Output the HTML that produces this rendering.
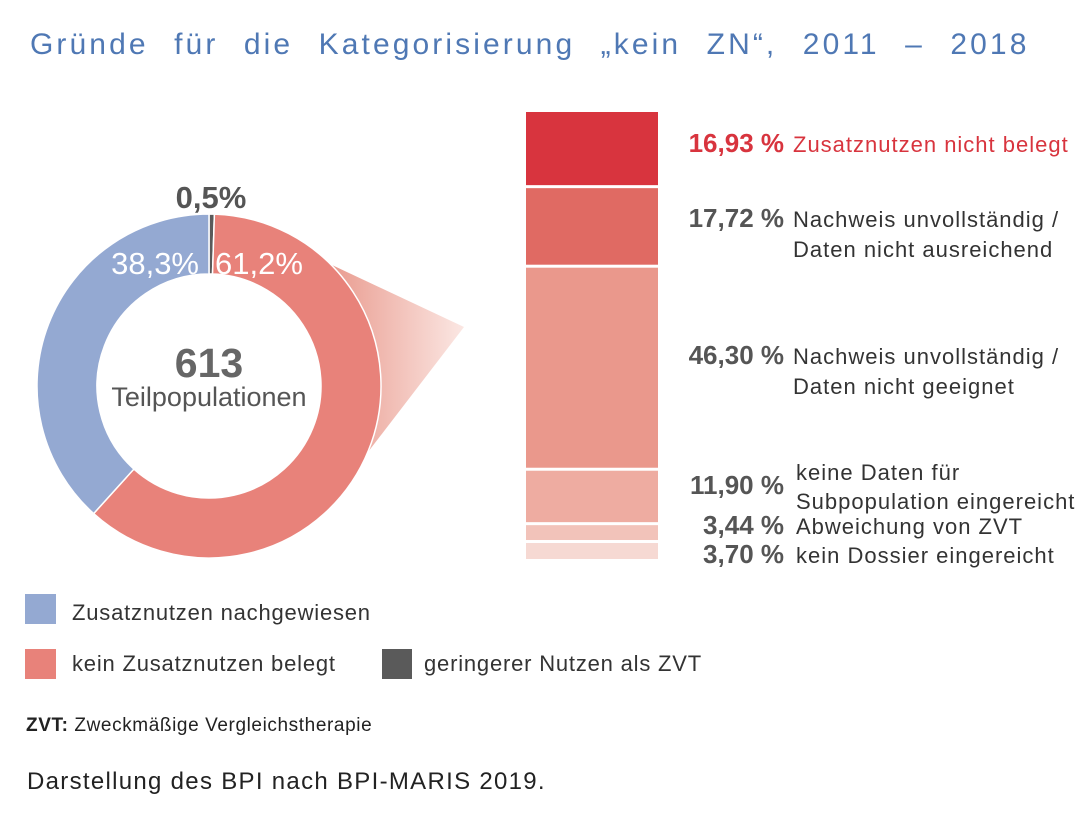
<!DOCTYPE html>
<html><head><meta charset="utf-8"><style>
body{margin:0;width:1092px;height:827px;background:#fff;font-family:"Liberation Sans",sans-serif;position:relative;overflow:hidden}
.t{position:absolute;white-space:nowrap}
</style></head><body>
<div class="t" style="left:30px;top:28px;font-size:30px;color:#4f78b4;letter-spacing:3.1px;word-spacing:14px">Gründe für die Kategorisierung „kein ZN“, 2011 – 2018</div>
<svg id="chart" width="1092" height="827" style="position:absolute;left:0;top:0">
<defs><linearGradient id="fan" x1="0" x2="1" y1="0" y2="0"><stop offset="0" stop-color="#e58a7c"/><stop offset="1" stop-color="#fbe7e3"/></linearGradient></defs>
<polygon points="300,250 464,327 368,452" fill="url(#fan)"/>
<g id="donut"></g><g id="bars"></g>
<text x="211" y="208" font-size="31" font-weight="bold" fill="#555" text-anchor="middle">0,5%</text>
<text x="199" y="274" font-size="31" fill="#fff" text-anchor="end">38,3%</text>
<text x="215" y="274" font-size="31" fill="#fff">61,2%</text>
<text x="209" y="377" font-size="41" font-weight="bold" fill="#666" text-anchor="middle">613</text>
<text x="209" y="406" font-size="27" fill="#555" text-anchor="middle">Teilpopulationen</text>
</svg>
<div class="t" style="left:25px;top:594px;width:31px;height:30px;background:#94a9d2"></div>
<div class="t" style="left:72px;top:600px;font-size:22px;letter-spacing:0.8px;color:#333">Zusatznutzen nachgewiesen</div>
<div class="t" style="left:25px;top:649px;width:31px;height:30px;background:#e8827a"></div>
<div class="t" style="left:72px;top:651px;font-size:22px;letter-spacing:0.8px;color:#333">kein Zusatznutzen belegt</div>
<div class="t" style="left:382px;top:649px;width:30px;height:30px;background:#5a5a5a"></div>
<div class="t" style="left:424px;top:651px;font-size:22px;letter-spacing:0.8px;color:#333">geringerer Nutzen als ZVT</div>
<div class="t" style="left:26px;top:715px;font-size:19px;letter-spacing:0.6px;color:#222"><b>ZVT:</b> Zweckmäßige Vergleichstherapie</div>
<div class="t" style="left:27px;top:768px;font-size:24px;color:#222;letter-spacing:1.3px">Darstellung des BPI nach BPI-MARIS 2019.</div>
<script>
const donutLabels=["geringerer Nutzen als ZVT","kein Zusatznutzen belegt","Zusatznutzen nachgewiesen"];
const donutValues=[0.5,61.2,38.3];
const donutColors=["#5a5a5a","#e8827a","#94a9d2"];
const barValues=[16.93,17.72,46.30,11.90,3.44,3.70];
const barPcts=["16,93 %","17,72 %","46,30 %","11,90 %","3,44 %","3,70 %"];
const barLabels=[["Zusatznutzen nicht belegt"],["Nachweis unvollständig /","Daten nicht ausreichend"],["Nachweis unvollständig /","Daten nicht geeignet"],["keine Daten für","Subpopulation eingereicht"],["Abweichung von ZVT"],["kein Dossier eingereicht"]];
const barColors=["#d8343e","#e06a63","#ea988c","#eeaca1","#f2c3ba","#f6d9d3"];
const NS="http://www.w3.org/2000/svg";
const cx=209,cy=386,R=172,r=112;
const dg=document.getElementById('donut');
let tot=donutValues.reduce((a,b)=>a+b,0),acc=0;
function pt(a,rad){return [cx+rad*Math.sin(a),cy-rad*Math.cos(a)];}
donutValues.forEach((v,i)=>{
 const a0=acc/tot*2*Math.PI;acc+=v;const a1=acc/tot*2*Math.PI;
 const lg=(a1-a0)>Math.PI?1:0;
 const p0=pt(a0,R),p1=pt(a1,R),q1=pt(a1,r),q0=pt(a0,r);
 const p=document.createElementNS(NS,'path');
 p.setAttribute('d',`M${p0}L${p0}A${R},${R} 0 ${lg} 1 ${p1}L${q1}A${r},${r} 0 ${lg} 0 ${q0}Z`);
 p.setAttribute('fill',donutColors[i]);p.setAttribute('stroke','#fff');p.setAttribute('stroke-width','1.5');
 
 
 dg.appendChild(p);
});
const bg=document.getElementById('bars');
const top0=112,gap=3,totalH=447-gap*(barValues.length-1);
const bsum=barValues.reduce((a,b)=>a+b,0);
const textY=[152,227,364,494,534,563];
let y=top0;
barValues.forEach((v,i)=>{
 const h=v/bsum*totalH;
 const rc=document.createElementNS(NS,'rect');
 rc.setAttribute('x',526);rc.setAttribute('y',y);rc.setAttribute('width',132);rc.setAttribute('height',h);rc.setAttribute('fill',barColors[i]);
 
 
 bg.appendChild(rc);
 const lines=barLabels[i];
 const ly=textY[i];
 const t=document.createElementNS(NS,'text');
 t.setAttribute('x',784);t.setAttribute('y',ly);t.setAttribute('text-anchor','end');t.setAttribute('font-size','26');t.setAttribute('font-weight','bold');
 t.setAttribute('fill',i===0?'#d8343e':'#555');t.textContent=barPcts[i];
 
 
 bg.appendChild(t);
 lines.forEach((ln,j)=>{
  const tt=document.createElementNS(NS,'text');
  let yy = i===3 ? 480+j*29 : ly+j*30;
  tt.setAttribute('x',i>=3?796:793);tt.setAttribute('y',yy);tt.setAttribute('font-size','22');tt.setAttribute('letter-spacing','1');
  tt.setAttribute('fill',i===0?'#d8343e':'#333');tt.textContent=ln;
  
  
  bg.appendChild(tt);
 });
 y+=h+gap;
});
</script>
</body></html>
